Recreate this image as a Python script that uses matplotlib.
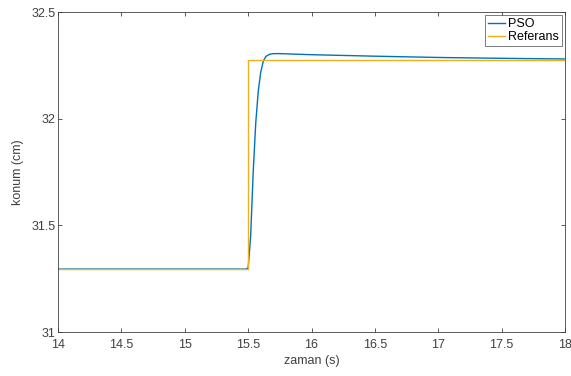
import matplotlib
matplotlib.use("Agg")
import matplotlib.pyplot as plt

# Reference signal (step)
ref_t = [14.0, 15.5, 15.5, 18.0]
ref_y = [31.295, 31.295, 32.274, 32.274]

# PSO response
pso_t = [14.0, 15.48, 15.5, 15.52, 15.54, 15.56, 15.58, 15.60, 15.62, 15.64, 15.67, 15.70, 15.75, 15.85, 16.0, 16.5, 17.0, 17.5, 18.0]
pso_y = [31.295, 31.295, 31.30, 31.45, 31.75, 31.98, 32.13, 32.22, 32.27, 32.292, 32.302, 32.305, 32.305, 32.303, 32.300, 32.293, 32.287, 32.283, 32.280]

plt.rcParams['font.family'] = ['Liberation Sans', 'DejaVu Sans']
fig = plt.figure(figsize=(5.71, 3.76), dpi=100)
ax = fig.add_axes([0.1016, 0.117, 0.8879, 0.851])

ax.plot(pso_t, pso_y, color='#0072BD', lw=1.0, label='PSO')
ax.plot(ref_t, ref_y, color='#EDB120', lw=1.0, label='Referans')

ax.set_xlim(14, 18)
ax.set_ylim(31, 32.5)
ax.set_xticks([14, 14.5, 15, 15.5, 16, 16.5, 17, 17.5, 18])
ax.set_xticklabels(['14', '14.5', '15', '15.5', '16', '16.5', '17', '17.5', '18'])
ax.set_yticks([31, 31.5, 32, 32.5])
ax.set_yticklabels(['31', '31.5', '32', '32.5'])
ax.tick_params(direction='in', length=3, width=0.6, colors='#404040', labelsize=9,
               top=True, right=True, pad=2)
ax.tick_params(axis='x', pad=5)
for s in ax.spines.values():
    s.set_color('#404040')
    s.set_linewidth(0.6)

ax.set_xlabel('zaman (s)', fontsize=9, color='#404040', labelpad=3)
ax.set_ylabel('konum (cm)', fontsize=9, color='#404040', labelpad=5)

leg = ax.legend(loc='upper right', fontsize=9, frameon=True, fancybox=False,
                handlelength=1.4, handletextpad=0.2, borderpad=0.25, labelspacing=0.05,
                borderaxespad=0.25)
leg.get_frame().set_edgecolor('#404040')
leg.get_frame().set_linewidth(0.6)

fig.savefig('out.png', dpi=100)
